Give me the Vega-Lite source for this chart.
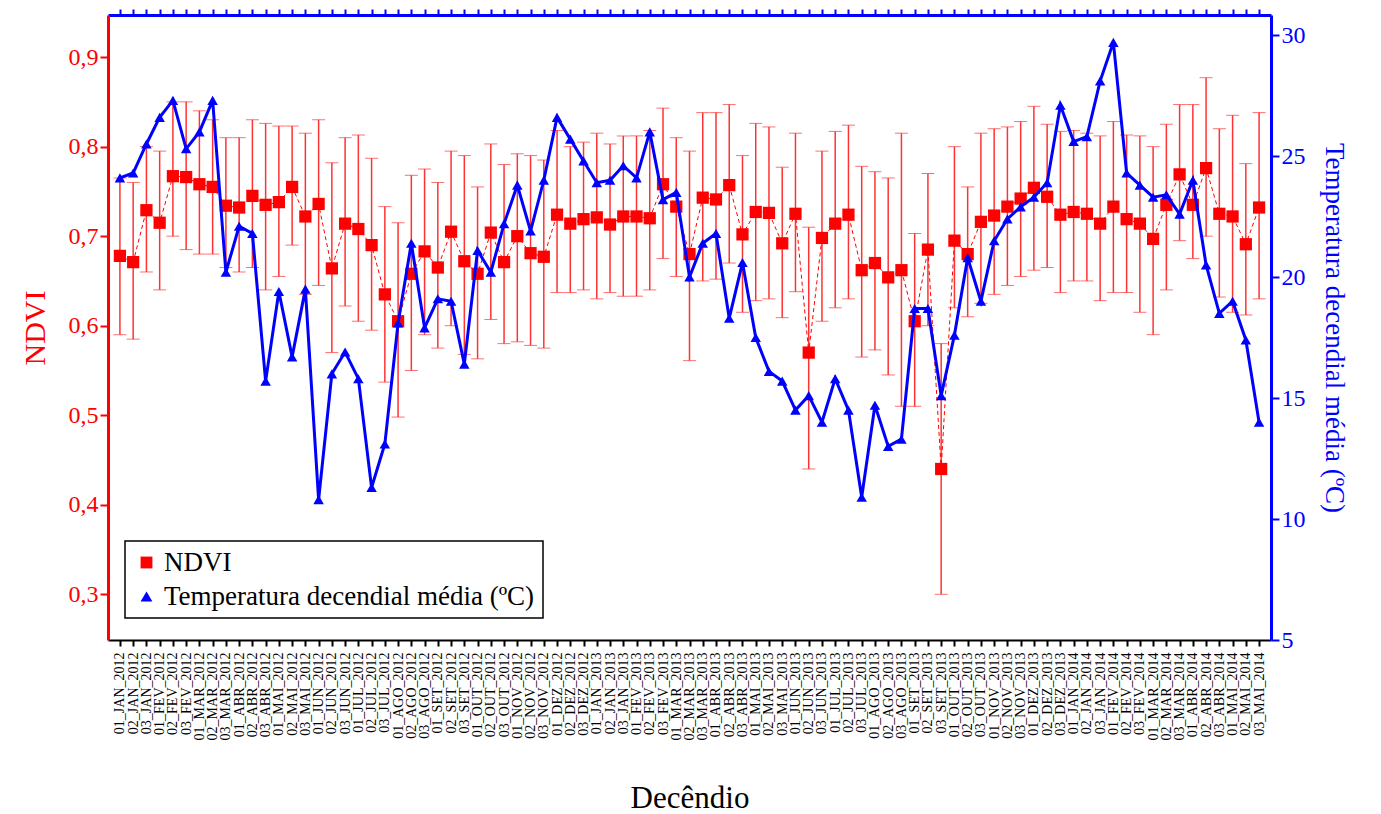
{
  "$schema": "https://vega.github.io/schema/vega-lite/v6.json",
  "autosize": {"type": "none"},
  "width": 1163,
  "height": 625,
  "padding": {"left": 108, "right": 110, "top": 15, "bottom": 174},
  "background": "white",
  "data": {
    "values": [
      {"d":"01_JAN_2012","n":0.678,"lo":0.59,"hi":0.765,"t":24.1},
      {"d":"02_JAN_2012","n":0.671,"lo":0.585,"hi":0.76,"t":24.3},
      {"d":"03_JAN_2012","n":0.729,"lo":0.66,"hi":0.8,"t":25.5},
      {"d":"01_FEV_2012","n":0.715,"lo":0.64,"hi":0.795,"t":26.6},
      {"d":"02_FEV_2012","n":0.767,"lo":0.7,"hi":0.85,"t":27.3},
      {"d":"03_FEV_2012","n":0.766,"lo":0.685,"hi":0.85,"t":25.3},
      {"d":"01_MAR_2012","n":0.758,"lo":0.68,"hi":0.84,"t":26.0},
      {"d":"02_MAR_2012","n":0.755,"lo":0.68,"hi":0.83,"t":27.3},
      {"d":"03_MAR_2012","n":0.734,"lo":0.665,"hi":0.81,"t":20.2},
      {"d":"01_ABR_2012","n":0.732,"lo":0.66,"hi":0.81,"t":22.1},
      {"d":"02_ABR_2012","n":0.745,"lo":0.665,"hi":0.83,"t":21.8},
      {"d":"03_ABR_2012","n":0.735,"lo":0.64,"hi":0.826,"t":15.7},
      {"d":"01_MAI_2012","n":0.738,"lo":0.655,"hi":0.823,"t":19.4},
      {"d":"02_MAI_2012","n":0.755,"lo":0.69,"hi":0.823,"t":16.7},
      {"d":"03_MAI_2012","n":0.722,"lo":0.635,"hi":0.815,"t":19.5},
      {"d":"01_JUN_2012","n":0.736,"lo":0.645,"hi":0.83,"t":10.8},
      {"d":"02_JUN_2012","n":0.664,"lo":0.57,"hi":0.782,"t":16.0},
      {"d":"03_JUN_2012","n":0.714,"lo":0.622,"hi":0.81,"t":16.9},
      {"d":"01_JUL_2012","n":0.708,"lo":0.605,"hi":0.813,"t":15.8},
      {"d":"02_JUL_2012","n":0.69,"lo":0.595,"hi":0.787,"t":11.3},
      {"d":"03_JUL_2012","n":0.635,"lo":0.537,"hi":0.733,"t":13.1},
      {"d":"01_AGO_2012","n":0.605,"lo":0.498,"hi":0.715,"t":18.1},
      {"d":"02_AGO_2012","n":0.658,"lo":0.55,"hi":0.768,"t":21.4},
      {"d":"03_AGO_2012","n":0.683,"lo":0.59,"hi":0.775,"t":17.9},
      {"d":"01_SET_2012","n":0.665,"lo":0.575,"hi":0.76,"t":19.1},
      {"d":"02_SET_2012","n":0.705,"lo":0.6,"hi":0.795,"t":19.0},
      {"d":"03_SET_2012","n":0.672,"lo":0.568,"hi":0.79,"t":16.4},
      {"d":"01_OUT_2012","n":0.658,"lo":0.563,"hi":0.755,"t":21.1},
      {"d":"02_OUT_2012","n":0.704,"lo":0.607,"hi":0.803,"t":20.2},
      {"d":"03_OUT_2012","n":0.671,"lo":0.58,"hi":0.78,"t":22.2},
      {"d":"01_NOV_2012","n":0.70,"lo":0.582,"hi":0.792,"t":23.8},
      {"d":"02_NOV_2012","n":0.681,"lo":0.578,"hi":0.79,"t":21.9},
      {"d":"03_NOV_2012","n":0.677,"lo":0.575,"hi":0.785,"t":24.0},
      {"d":"01_DEZ_2012","n":0.724,"lo":0.637,"hi":0.818,"t":26.6},
      {"d":"02_DEZ_2012","n":0.714,"lo":0.637,"hi":0.8,"t":25.7},
      {"d":"03_DEZ_2012","n":0.719,"lo":0.64,"hi":0.805,"t":24.8},
      {"d":"01_JAN_2013","n":0.721,"lo":0.63,"hi":0.815,"t":23.9},
      {"d":"02_JAN_2013","n":0.713,"lo":0.637,"hi":0.803,"t":24.0},
      {"d":"03_JAN_2013","n":0.722,"lo":0.633,"hi":0.812,"t":24.6},
      {"d":"01_FEV_2013","n":0.722,"lo":0.633,"hi":0.812,"t":24.1},
      {"d":"02_FEV_2013","n":0.720,"lo":0.64,"hi":0.818,"t":26.0},
      {"d":"03_FEV_2013","n":0.758,"lo":0.675,"hi":0.843,"t":23.2},
      {"d":"01_MAR_2013","n":0.733,"lo":0.655,"hi":0.81,"t":23.5},
      {"d":"02_MAR_2013","n":0.68,"lo":0.561,"hi":0.795,"t":20.0},
      {"d":"03_MAR_2013","n":0.743,"lo":0.65,"hi":0.838,"t":21.4},
      {"d":"01_ABR_2013","n":0.741,"lo":0.652,"hi":0.838,"t":21.8},
      {"d":"02_ABR_2013","n":0.757,"lo":0.67,"hi":0.847,"t":18.3},
      {"d":"03_ABR_2013","n":0.702,"lo":0.615,"hi":0.79,"t":20.6},
      {"d":"01_MAI_2013","n":0.727,"lo":0.628,"hi":0.826,"t":17.5},
      {"d":"02_MAI_2013","n":0.726,"lo":0.63,"hi":0.822,"t":16.1},
      {"d":"03_MAI_2013","n":0.692,"lo":0.609,"hi":0.777,"t":15.7},
      {"d":"01_JUN_2013","n":0.725,"lo":0.638,"hi":0.815,"t":14.5},
      {"d":"02_JUN_2013","n":0.57,"lo":0.44,"hi":0.71,"t":15.1},
      {"d":"03_JUN_2013","n":0.698,"lo":0.605,"hi":0.795,"t":14.0},
      {"d":"01_JUL_2013","n":0.714,"lo":0.62,"hi":0.817,"t":15.8},
      {"d":"02_JUL_2013","n":0.724,"lo":0.63,"hi":0.824,"t":14.5},
      {"d":"03_JUL_2013","n":0.662,"lo":0.565,"hi":0.778,"t":10.9},
      {"d":"01_AGO_2013","n":0.670,"lo":0.573,"hi":0.772,"t":14.7},
      {"d":"02_AGO_2013","n":0.654,"lo":0.545,"hi":0.765,"t":13.0},
      {"d":"03_AGO_2013","n":0.662,"lo":0.51,"hi":0.815,"t":13.3},
      {"d":"01_SET_2013","n":0.605,"lo":0.51,"hi":0.703,"t":18.7},
      {"d":"02_SET_2013","n":0.685,"lo":0.6,"hi":0.77,"t":18.7},
      {"d":"03_SET_2013","n":0.44,"lo":0.30,"hi":0.58,"t":15.1},
      {"d":"01_OUT_2013","n":0.695,"lo":0.62,"hi":0.80,"t":17.6},
      {"d":"02_OUT_2013","n":0.68,"lo":0.61,"hi":0.755,"t":20.8},
      {"d":"03_OUT_2013","n":0.716,"lo":0.625,"hi":0.815,"t":19.0},
      {"d":"01_NOV_2013","n":0.723,"lo":0.635,"hi":0.82,"t":21.5},
      {"d":"02_NOV_2013","n":0.733,"lo":0.645,"hi":0.822,"t":22.4},
      {"d":"03_NOV_2013","n":0.742,"lo":0.655,"hi":0.828,"t":22.9},
      {"d":"01_DEZ_2013","n":0.754,"lo":0.662,"hi":0.845,"t":23.3},
      {"d":"02_DEZ_2013","n":0.744,"lo":0.665,"hi":0.825,"t":23.9},
      {"d":"03_DEZ_2013","n":0.724,"lo":0.637,"hi":0.817,"t":27.1},
      {"d":"01_JAN_2014","n":0.727,"lo":0.65,"hi":0.818,"t":25.6},
      {"d":"02_JAN_2014","n":0.725,"lo":0.65,"hi":0.815,"t":25.8},
      {"d":"03_JAN_2014","n":0.714,"lo":0.628,"hi":0.812,"t":28.1},
      {"d":"01_FEV_2014","n":0.733,"lo":0.637,"hi":0.828,"t":29.7},
      {"d":"02_FEV_2014","n":0.719,"lo":0.637,"hi":0.813,"t":24.3},
      {"d":"03_FEV_2014","n":0.714,"lo":0.615,"hi":0.812,"t":23.8},
      {"d":"01_MAR_2014","n":0.697,"lo":0.59,"hi":0.8,"t":23.3},
      {"d":"02_MAR_2014","n":0.735,"lo":0.64,"hi":0.825,"t":23.4},
      {"d":"03_MAR_2014","n":0.769,"lo":0.695,"hi":0.847,"t":22.6},
      {"d":"01_ABR_2014","n":0.735,"lo":0.675,"hi":0.847,"t":24.0},
      {"d":"02_ABR_2014","n":0.776,"lo":0.70,"hi":0.877,"t":20.5},
      {"d":"03_ABR_2014","n":0.725,"lo":0.632,"hi":0.82,"t":18.5},
      {"d":"01_MAI_2014","n":0.722,"lo":0.615,"hi":0.835,"t":19.0},
      {"d":"02_MAI_2014","n":0.691,"lo":0.612,"hi":0.781,"t":17.4},
      {"d":"03_MAI_2014","n":0.732,"lo":0.63,"hi":0.838,"t":14.0}
    ]
  },
  "encoding": {
    "x": {
      "field": "d", "type": "ordinal", "sort": null,
      "scale": {"type": "point", "padding": 0.9},
      "title": "Decêndio",
      "axis": {"labelAngle": -90, "labelFontSize": 14, "labelColor": "black", "domainColor": "black", "domainWidth": 2, "tickColor": "black", "tickWidth": 2, "tickSize": 6, "labelPadding": 6, "titleFontSize": 31, "titlePadding": 44, "titleColor": "black"}
    }
  },
  "layer": [
    {
      "encoding": {
        "y": {
          "type": "quantitative",
          "scale": {"domain": [0.249, 0.947], "nice": false, "zero": false},
          "axis": {"values": [0.3, 0.4, 0.5, 0.6, 0.7, 0.8, 0.9], "labelExpr": "replace(format(datum.value, '.1f'), '.', ',')", "labelFontSize": 24, "labelColor": "#ff0000", "domainColor": "#ff0000", "domainWidth": 3, "tickColor": "#ff0000", "tickWidth": 2, "tickSize": 8, "title": "NDVI", "titleFontSize": 30, "titleColor": "#ff0000", "titlePadding": 18}
        }
      },
      "layer": [
        {
          "mark": {"type": "errorbar", "ticks": {"size": 13, "color": "#ff3333"}, "rule": {"color": "#ff3333", "strokeWidth": 1.5}},
          "encoding": {"y": {"field": "lo", "type": "quantitative"}, "y2": {"field": "hi"}}
        },
        {
          "mark": {"type": "line", "color": "#ff0000", "strokeWidth": 1, "strokeDash": [4, 3]},
          "encoding": {"y": {"field": "n", "type": "quantitative"}}
        },
        {
          "mark": {"type": "point", "filled": true, "opacity": 1, "size": 150},
          "encoding": {
            "y": {"field": "n", "type": "quantitative"},
            "color": {"datum": "NDVI", "scale": {"domain": ["NDVI", "Temperatura decendial média (ºC)"], "range": ["#ff0000", "#0000ff"]}},
            "shape": {"datum": "NDVI", "scale": {"domain": ["NDVI", "Temperatura decendial média (ºC)"], "range": ["square", "triangle-up"]}}
          }
        }
      ]
    },
    {
      "encoding": {
        "y": {
          "type": "quantitative",
          "scale": {"domain": [5, 30.83], "nice": false, "zero": false},
          "axis": {"orient": "right", "values": [5, 10, 15, 20, 25, 30], "labelFontSize": 24, "labelColor": "#0000ff", "domainColor": "#0000ff", "domainWidth": 3, "tickColor": "#0000ff", "tickWidth": 2, "tickSize": 8, "title": "Temperatura decendial média (ºC)", "titleFontSize": 27, "titleColor": "#0000ff", "titlePadding": 14}
        }
      },
      "layer": [
        {
          "mark": {"type": "line", "color": "#0000ff", "strokeWidth": 3},
          "encoding": {
            "y": {"field": "t", "type": "quantitative"},
            "x": {"field": "d", "type": "ordinal", "sort": null, "axis": {"orient": "top", "labels": false, "title": null, "domainColor": "#0000ff", "domainWidth": 3, "tickColor": "#0000ff", "tickWidth": 2, "tickSize": 6}}
          }
        },
        {
          "mark": {"type": "point", "filled": true, "opacity": 1, "size": 110},
          "encoding": {
            "y": {"field": "t", "type": "quantitative"},
            "color": {"datum": "Temperatura decendial média (ºC)"},
            "shape": {"datum": "Temperatura decendial média (ºC)"}
          }
        }
      ]
    }
  ],
  "resolve": {"scale": {"y": "independent"}, "axis": {"x": "independent"}},
  "config": {
    "font": "Liberation Serif",
    "view": {"stroke": null},
    "axis": {"labelFont": "Liberation Serif", "titleFont": "Liberation Serif", "titleFontWeight": "normal", "grid": false},
    "legend": {
      "orient": "none", "legendX": 17, "legendY": 526, "title": null,
      "strokeColor": "black", "strokeWidth": 1.5, "padding": 8, "fillColor": "white",
      "labelFont": "Liberation Serif", "labelFontSize": 27, "labelColor": "black", "labelLimit": 700,
      "symbolSize": 140, "rowPadding": 6
    }
  }
}
